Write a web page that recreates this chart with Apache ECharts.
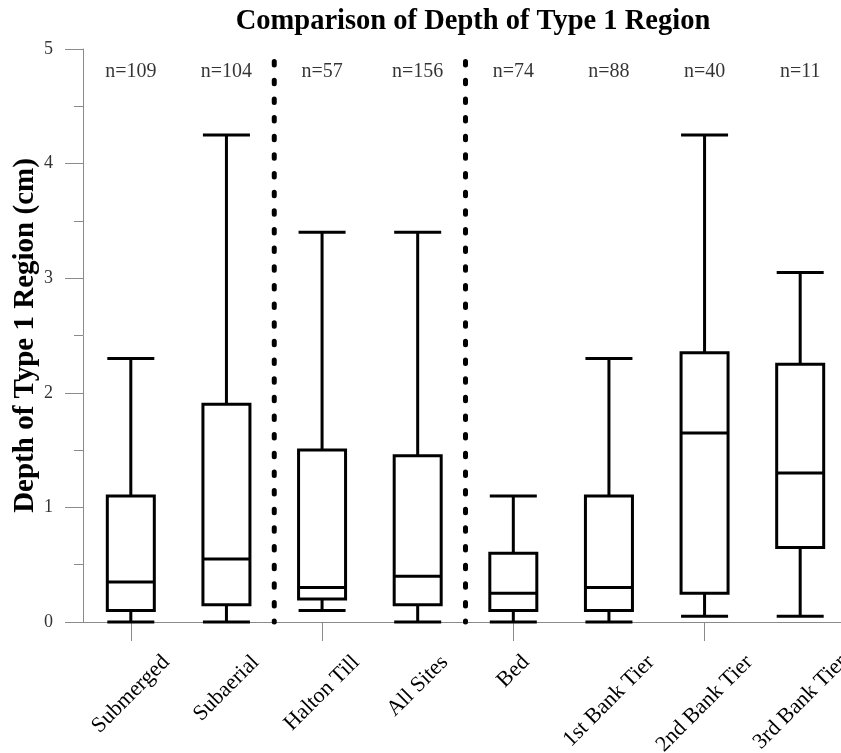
<!DOCTYPE html>
<html>
<head>
<meta charset="utf-8">
<script src="https://cdn.jsdelivr.net/npm/echarts@6/dist/echarts.min.js"></script>
<style>
html,body{margin:0;padding:0;background:#fff;}
#chart{width:841px;height:753px;}
</style>
</head>
<body>
<div id="chart"></div>
<script>
// ---- data ----
const categories = ['Submerged', 'Subaerial', 'Halton Till', 'All Sites', 'Bed', '1st Bank Tier', '2nd Bank Tier', '3rd Bank Tier'];
const minVals    = [0,    0,    0.1,  0,    0,    0,    0.05, 0.05];
const q1Vals     = [0.1,  0.15, 0.2,  0.15, 0.1,  0.1,  0.25, 0.65];
const medianVals = [0.35, 0.55, 0.3,  0.4,  0.25, 0.3,  1.65, 1.3];
const q3Vals     = [1.1,  1.9,  1.5,  1.45, 0.6,  1.1,  2.35, 2.25];
const maxVals    = [2.3,  4.25, 3.4,  3.4,  1.1,  2.3,  4.25, 3.05];
const nLabels    = ['n=109', 'n=104', 'n=57', 'n=156', 'n=74', 'n=88', 'n=40', 'n=11'];
const nLabelY    = 4.8;
const yMin = 0, yMax = 5, yInterval = 1;
const separatorPositions = [2, 4];   // band boundaries (in category-band units)
const separatorTop = 4.89;
const titleText = 'Comparison of Depth of Type 1 Region';
const yAxisTitle = 'Depth of Type 1 Region (cm)';

// ---- build ----
const SERIF = '"Liberation Serif", "Times New Roman", serif';
const boxData = categories.map((c, i) => [minVals[i], q1Vals[i], medianVals[i], q3Vals[i], maxVals[i]]);
const nData = categories.map((c, i) => [i, nLabelY]);
const catLabelData = categories.map((c, i) => [i, 0]);

const measureCtx = document.createElement('canvas').getContext('2d');
const CAT_FONT_SIZE = 22;
measureCtx.font = CAT_FONT_SIZE + 'px ' + SERIF;

const chart = echarts.init(document.getElementById('chart'), null, {renderer: 'canvas'});

const separatorSeries = separatorPositions.map(pos => ({
  type: 'line',
  xAxisIndex: 1,
  yAxisIndex: 0,
  data: [[pos, separatorTop], [pos, 0]],
  symbol: 'none',
  clip: false,
  silent: true,
  lineStyle: {color: '#000', width: 5, type: [3.5, 15.15], cap: 'round'},
  z: 3
}));

const option = {
  backgroundColor: '#fff',
  animation: false,
  title: {
    text: titleText,
    left: 468,
    top: 2,
    textAlign: 'center',
    textStyle: {fontFamily: SERIF, fontWeight: 'bold', fontSize: 28.5, color: '#000'}
  },
  grid: {left: 83, right: -7, top: 49, bottom: 131, containLabel: false, outerBoundsMode: 'none'},
  xAxis: [
    {
      type: 'category',
      data: categories,
      boundaryGap: true,
      axisLine: {show: true, lineStyle: {color: '#8a8a8a', width: 1}},
      axisTick: {show: true, alignWithLabel: true, length: 19, lineStyle: {color: '#8a8a8a', width: 1}},
      axisLabel: {show: false},
      splitLine: {show: false}
    },
    {
      type: 'value',
      min: 0,
      max: categories.length,
      show: false
    }
  ],
  yAxis: {
    type: 'value',
    min: yMin,
    max: yMax,
    interval: yInterval,
    name: yAxisTitle,
    nameLocation: 'middle',
    nameGap: 43,
    nameMoveOverlap: false,
    nameTextStyle: {fontFamily: SERIF, fontWeight: 'bold', fontSize: 29, color: '#000'},
    axisLine: {show: true, lineStyle: {color: '#8a8a8a', width: 1}},
    axisTick: {show: true, length: 18, lineStyle: {color: '#8a8a8a', width: 1}},
    minorTick: {show: true, splitNumber: 2, length: 9, lineStyle: {color: '#8a8a8a', width: 1}},
    axisLabel: {margin: 30, fontFamily: SERIF, fontSize: 18, color: '#333'},
    splitLine: {show: false},
    minorSplitLine: {show: false}
  },
  series: [
    {
      type: 'boxplot',
      xAxisIndex: 0,
      data: boxData,
      boxWidth: [47, 47],
      itemStyle: {color: '#fff', borderColor: '#000', borderWidth: 3},
      emphasis: {disabled: true},
      silent: true,
      z: 4
    },
    {
      type: 'scatter',
      xAxisIndex: 0,
      data: nData,
      symbolSize: 1,
      itemStyle: {color: 'rgba(0,0,0,0)'},
      silent: true,
      label: {
        show: true,
        position: 'inside',
        formatter: p => nLabels[p.dataIndex],
        fontFamily: SERIF,
        fontSize: 20,
        color: '#000'
      }
    },
    {
      type: 'custom',
      xAxisIndex: 0,
      data: catLabelData,
      silent: true,
      clip: false,
      renderItem: function (params, api) {
        const idx = api.value(0);
        const p = api.coord([idx, 0]);
        const txt = categories[idx];
        const L = measureCtx.measureText(txt).width;
        return {
          type: 'text',
          x: p[0],
          y: p[1] + 37 + 0.3536 * L,
          rotation: Math.PI / 4,
          style: {
            text: txt,
            font: CAT_FONT_SIZE + 'px ' + SERIF,
            align: 'center',
            verticalAlign: 'middle',
            fill: '#000'
          }
        };
      }
    }
  ].concat(separatorSeries)
};

chart.setOption(option);
</script>
</body>
</html>
